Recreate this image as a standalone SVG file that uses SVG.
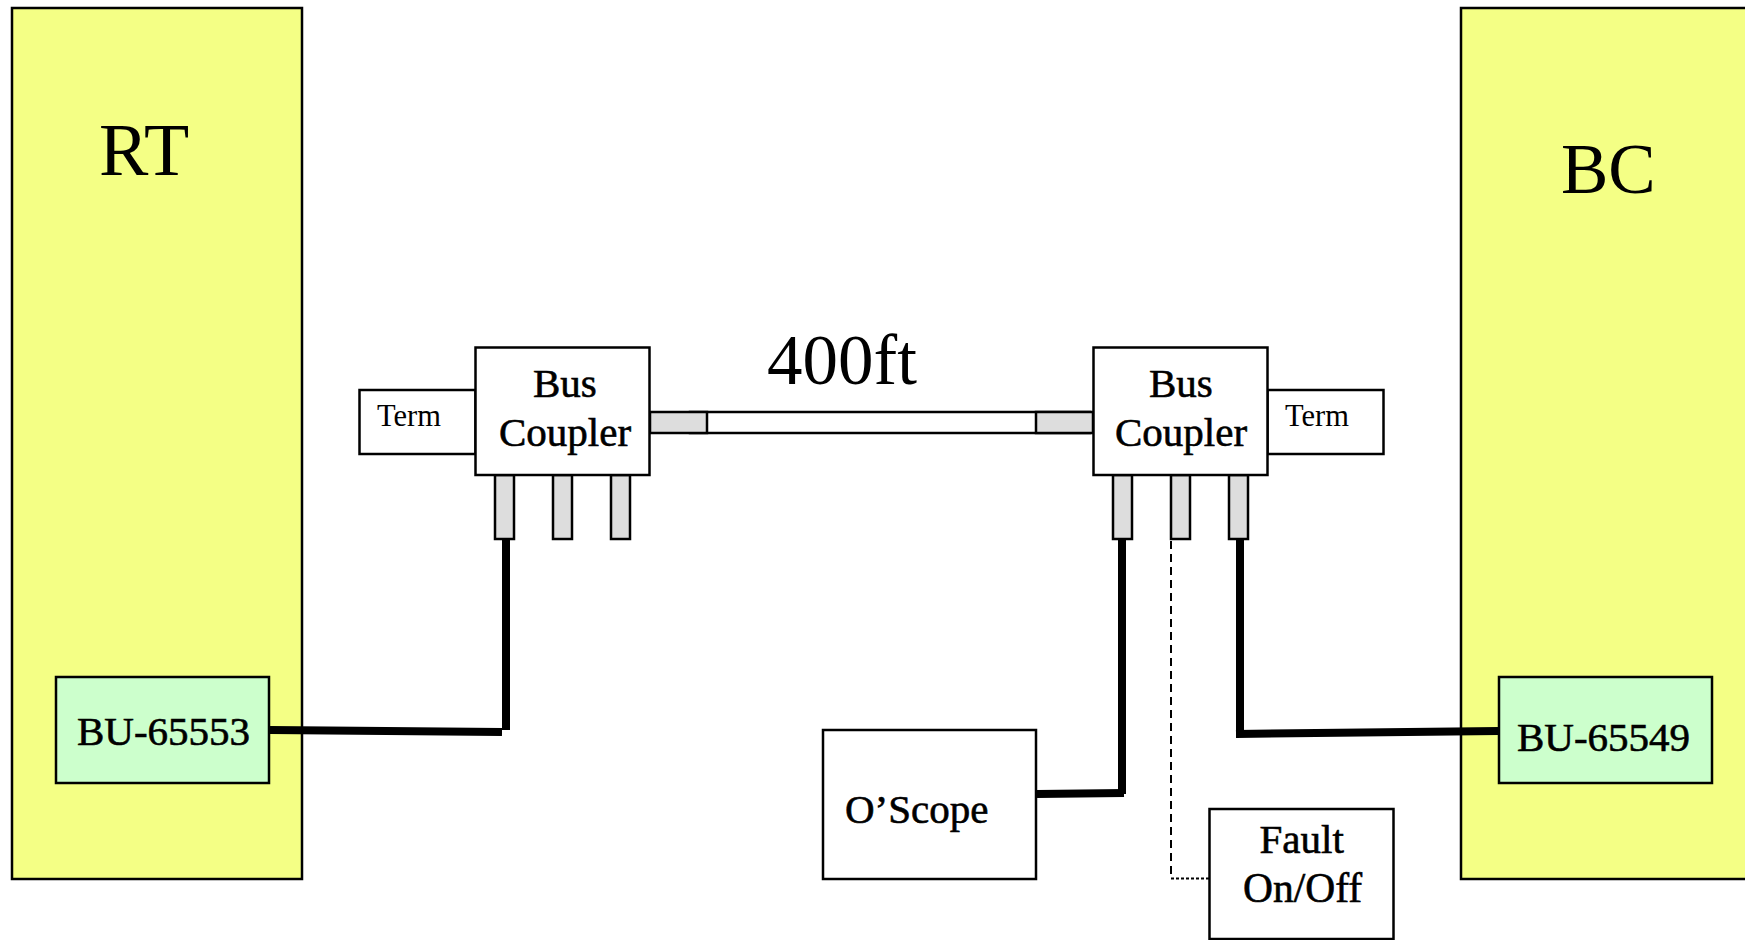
<svg xmlns="http://www.w3.org/2000/svg" width="1745" height="940" viewBox="0 0 1745 940">
<style>
text{font-family:"Liberation Serif","Times New Roman",serif;fill:#000}
.big{font-size:70px}
.mid{font-size:41px;stroke:#000;stroke-width:.6px}
.small{font-size:30.500px}
.box{fill:#fff;stroke:#000;stroke-width:2.500px}
.soft{fill:#f4ff85;stroke:#000;stroke-width:2.500px}
.chip{fill:#ccffcc;stroke:#000;stroke-width:2.500px}
.stub{fill:#dddddd;stroke:#000;stroke-width:2.500px}
.wire{fill:none;stroke:#000;stroke-width:8px}
</style>
<g id="rt"><rect class="soft" x="12" y="8" width="290" height="871"/><text class="big" x="99" y="175" style="font-size:74px">RT</text></g>
<g id="bc"><rect class="soft" x="1461" y="8" width="295" height="871"/><text class="big" x="1561" y="193" style="font-size:71px">BC</text></g>
<g id="bu-65553"><rect class="chip" x="56" y="677" width="213" height="106"/><text class="mid" x="77" y="745">BU-65553</text></g>
<g id="bu-65549"><rect class="chip" x="1499" y="677" width="213" height="106"/><text class="mid" x="1517" y="751">BU-65549</text></g>
<g id="cable-400ft"><rect class="box" x="690" y="412" width="400" height="21"/><rect class="stub" x="650" y="412" width="57" height="21"/><rect class="stub" x="1036" y="412" width="57" height="21"/><text class="big" x="767" y="384" style="font-size:71px">400ft</text></g>
<g id="term-left"><rect class="box" x="359.500" y="390" width="116" height="64"/><text class="small" x="377" y="426">Term</text></g>
<g id="term-right"><rect class="box" x="1267.500" y="390" width="116" height="64"/><text class="small" x="1285" y="426">Term</text></g>
<g id="coupler-left">
<rect class="stub" x="495" y="475" width="19" height="64"/><rect class="stub" x="553" y="475" width="19" height="64"/><rect class="stub" x="611" y="475" width="19" height="64"/>
<rect class="box" x="475.500" y="347.500" width="174" height="127.500"/><text class="mid" x="533" y="397">Bus</text><text class="mid" x="499" y="446">Coupler</text></g>
<g id="coupler-right">
<rect class="stub" x="1113" y="475" width="19" height="64"/><rect class="stub" x="1171" y="475" width="19" height="64"/><rect class="stub" x="1229" y="475" width="19" height="64"/>
<rect class="box" x="1093.500" y="347.500" width="174" height="127.500"/><text class="mid" x="1149" y="397">Bus</text><text class="mid" x="1115" y="446">Coupler</text></g>
<g id="oscope"><rect class="box" x="823" y="730" width="213" height="149"/><text class="mid" x="845" y="823">O’Scope</text></g>
<g id="fault"><rect class="box" x="1209.500" y="809" width="184" height="130"/><text class="mid" x="1259.500" y="853">Fault</text><text class="mid" x="1243" y="902" style="font-size:41.500px">On/Off</text></g>
<g id="connectors">
<path class="wire" d="M270 730L502 732"/><path class="wire" d="M506 539V730"/>
<path class="wire" d="M1122 539V794"/><path class="wire" d="M1037 794L1124 793"/>
<path class="wire" d="M1240 539V733"/><path class="wire" d="M1236 734L1499 731"/>
<path fill="none" stroke="#000" stroke-width="2" stroke-dasharray="8 5" d="M1171 541V878"/>
<path fill="none" stroke="#000" stroke-width="2" stroke-dasharray="3 2" d="M1171 878.500H1209"/>
</g>
</svg>
